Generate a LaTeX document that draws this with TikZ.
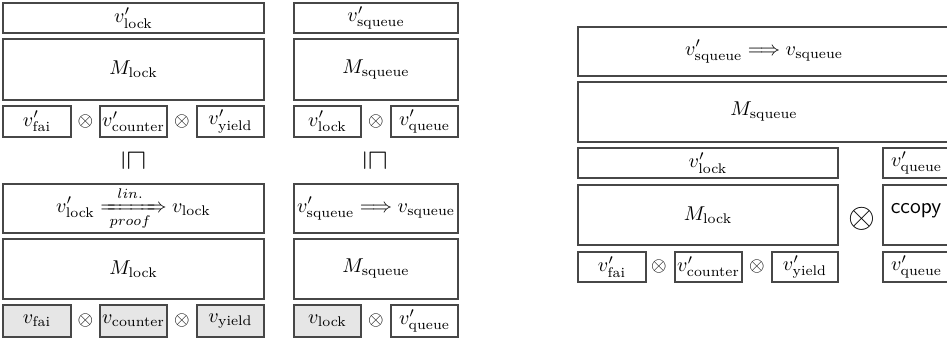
\documentclass[tikz,border=0pt]{standalone}
\usepackage{amsmath,mathtools,graphicx}
\definecolor{edge}{HTML}{474747}
\definecolor{shade}{HTML}{E6E6E6}
\newcommand{\vp}[1]{$v'_{\text{#1}}$}
\newcommand{\vv}[1]{$v_{\text{#1}}$}
\newcommand{\mm}[1]{$M_{\text{#1}}$}
% \bx[style]{name}{x1}{y1}{x2}{y2}{text}  (pixel coordinates)
\newcommand{\bx}[7][box]{%
  \node[#1, minimum width={(#5-#3)*0.5pt}, minimum height={(#6-#4)*0.5pt}]
    (#2) at ({(#3+#5)/2},{(#4+#6)/2}) {#7};}
\begin{document}
\begin{tikzpicture}[x=0.5pt,y=-0.5pt,
  box/.style={draw=edge, line width=0.65pt, inner sep=0pt, outer sep=0pt},
  shaded/.style={box, fill=shade},
  op/.style={inner sep=0pt},
  bigop/.style={inner sep=0pt, font=\fontsize{17}{20}\selectfont},
  refines/.style={inner sep=0pt}]
\useasboundingbox (0,0) rectangle (947,341);
\clip (0,0) rectangle (947,341);
% ---------- group A (upper) ----------
\bx{a1}{3}{3}{264}{33}{\vp{lock}}
\bx{a2}{3}{39}{264}{100}{\mm{lock}}
\bx{a3}{3}{106}{71}{137}{\vp{fai}}
\node[op] (ao1) at (85.5,121.5) {$\otimes$};
\bx{a4}{100}{106}{167}{137}{\vp{counter}}
\node[op] (ao2) at (182,121.5) {$\otimes$};
\bx{a5}{197}{106}{264}{137}{\vp{yield}}
% ---------- group B (upper) ----------
\bx{b1}{294}{3}{458}{33}{\vp{squeue}}
\bx{b2}{294}{39}{458}{100}{\mm{squeue}}
\bx{b3}{294}{106}{361}{137}{\vp{lock}}
\node[op] (bo1) at (376,121.5) {$\otimes$};
\bx{b4}{391}{106}{458}{137}{\vp{queue}}
% ---------- refinement symbols ----------
\node[refines] (ra) at (133.5,160) {\scalebox{1.4}{\rotatebox{-90}{$\sqsubseteq$}}};
\node[refines] (rb) at (375,160) {\scalebox{1.4}{\rotatebox{-90}{$\sqsubseteq$}}};
% ---------- group A (lower) ----------
\bx{c1}{3}{184}{264}{233}{$v'_{\text{lock}} \xRightarrow[\;proof\;]{\;lin.\rule[-2pt]{0pt}{2pt}\;} v_{\text{lock}}$}
\bx{c2}{3}{239}{264}{299}{\mm{lock}}
\bx[shaded]{c3}{3}{305}{71}{337}{\vv{fai}}
\node[op] (co1) at (85.5,321) {$\otimes$};
\bx[shaded]{c4}{100}{305}{167}{337}{\vv{counter}}
\node[op] (co2) at (182,321) {$\otimes$};
\bx[shaded]{c5}{197}{305}{264}{337}{\vv{yield}}
% ---------- group B (lower) ----------
\bx{d1}{294}{184}{458}{233}{$v'_{\text{squeue}} \Longrightarrow v_{\text{squeue}}$}
\bx{d2}{294}{239}{458}{299}{\mm{squeue}}
\bx[shaded]{d3}{294}{305}{361}{337}{\vv{lock}}
\node[op] (do1) at (376,321) {$\otimes$};
\bx{d4}{391}{305}{458}{337}{\vp{queue}}
% ---------- right group ----------
\bx{e1}{578}{27}{950}{76}{$v'_{\text{squeue}} \Longrightarrow v_{\text{squeue}}$}
\bx{e2}{578}{82}{950}{142}{\mm{squeue}}
\bx{e3}{578}{148}{838}{178}{\vp{lock}}
\bx{e4}{578}{185}{838}{245}{\mm{lock}}
\bx{e5}{578}{252}{646}{282}{\vp{fai}}
\node[op] (eo1) at (659,267) {$\otimes$};
\bx{e6}{675}{252}{742}{282}{\vp{counter}}
\node[op] (eo2) at (757,267) {$\otimes$};
\bx{e7}{772}{252}{838}{282}{\vp{yield}}
\node[bigop] (eo3) at (862,219) {$\otimes$};
\bx{f1}{883}{148}{950}{178}{\vp{queue}}
\bx{f2}{883}{185}{950}{245}{}
\node[inner sep=0pt, font=\sffamily\fontsize{11}{13}\selectfont] (f2t) at (916,211) {ccopy};
\bx{f3}{883}{252}{950}{282}{\vp{queue}}
\end{tikzpicture}
\end{document}
